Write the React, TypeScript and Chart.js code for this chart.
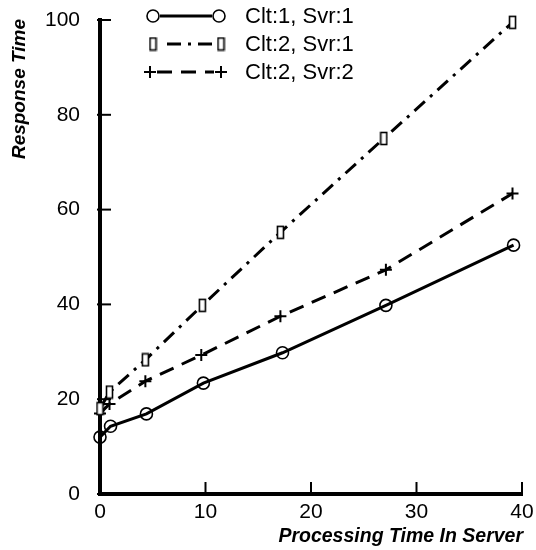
import React, { useEffect, useRef } from "react";
import { Chart, registerables } from "chart.js";

Chart.register(...registerables);

const seriesLabels = ["Clt:1, Svr:1", "Clt:2, Svr:1", "Clt:2, Svr:2"];
const s1X = [0, 1, 4.4, 9.8, 17.3, 27.1, 39.2];
const s1Y = [12, 14.3, 16.9, 23.4, 29.8, 39.8, 52.5];
const s2X = [0, 0.9, 4.3, 9.7, 17.1, 26.9, 39.1];
const s2Y = [18, 21.5, 28.3, 39.8, 55.2, 75, 99.5];
const s3X = [0, 0.9, 4.3, 9.6, 17.1, 27.1, 39.1];
const s3Y = [17, 19, 23.8, 29.3, 37.5, 47.3, 63.4];
const xTicks = [0, 10, 20, 30, 40];
const yTicks = [0, 20, 40, 60, 80, 100];
const xTitle = "Processing Time In Server";
const yTitle = "Response Time";

const toPoints = (xs: number[], ys: number[]) => xs.map((x, i) => ({ x, y: ys[i] }));

function makeRectMarker(): HTMLCanvasElement {
  const c = document.createElement("canvas");
  c.width = 9;
  c.height = 15;
  const g = c.getContext("2d")!;
  g.strokeStyle = "#000";
  g.lineWidth = 1.6;
  g.fillStyle = "#fff";
  g.fillRect(1.5, 1.5, 6, 12);
  g.strokeRect(1.5, 1.5, 6, 12);
  return c;
}

export default function App() {
  const ref = useRef<HTMLCanvasElement>(null);
  useEffect(() => {
    const rectMarker = makeRectMarker();
    const font = "'Liberation Sans', Arial, Helvetica, sans-serif";
    const dashes = [[], [14, 7, 3, 7], [15, 9]];
    const drawMarker = (ctx: CanvasRenderingContext2D, kind: number, x: number, y: number) => {
      ctx.save();
      ctx.setLineDash([]);
      ctx.strokeStyle = "#000";
      if (kind === 0) {
        ctx.lineWidth = 1.6;
        ctx.beginPath();
        ctx.arc(x, y, 6, 0, Math.PI * 2);
        ctx.stroke();
      } else if (kind === 1) {
        ctx.drawImage(rectMarker, x - 4.5, y - 7.5);
      } else {
        ctx.lineWidth = 2;
        ctx.beginPath();
        ctx.moveTo(x - 6, y);
        ctx.lineTo(x + 6, y);
        ctx.moveTo(x, y - 6);
        ctx.lineTo(x, y + 6);
        ctx.stroke();
      }
      ctx.restore();
    };
    const decor = {
      id: "decor",
      afterDraw(chart: any) {
        const ctx: CanvasRenderingContext2D = chart.ctx;
        const xs = chart.scales.x;
        const ys = chart.scales.y;
        const area = chart.chartArea;
        ctx.save();
        ctx.strokeStyle = "#000";
        ctx.lineWidth = 2;
        ctx.setLineDash([]);
        // inward ticks
        xTicks.forEach((v) => {
          const px = xs.getPixelForValue(v);
          ctx.beginPath();
          ctx.moveTo(px, area.bottom);
          ctx.lineTo(px, area.bottom - 12);
          ctx.stroke();
        });
        yTicks.forEach((v) => {
          const py = ys.getPixelForValue(v);
          ctx.beginPath();
          ctx.moveTo(area.left - 3, py);
          ctx.lineTo(area.left + 11, py);
          ctx.stroke();
        });
        // axis titles
        ctx.fillStyle = "#000";
        ctx.font = `italic bold 19.5px ${font}`;
        ctx.textAlign = "right";
        ctx.textBaseline = "middle";
        ctx.fillText(xTitle, 523, 537);
        ctx.save();
        ctx.translate(20, 19);
        ctx.rotate(-Math.PI / 2);
        ctx.font = `italic bold 19px ${font}`;
        ctx.fillText(yTitle, 0, 0);
        ctx.restore();
        // legend
        const rows = [16, 44, 72];
        rows.forEach((ry, i) => {
          const x1 = i === 2 ? 150 : 153;
          const x2 = i === 0 ? 219 : 221;
          ctx.save();
          ctx.lineWidth = 3;
          ctx.setLineDash(dashes[i]);
          ctx.beginPath();
          ctx.moveTo(x1 + (i === 1 ? 14 : 7), ry);
          ctx.lineTo(x2 - 7, ry);
          ctx.stroke();
          ctx.restore();
          drawMarker(ctx, i, x1, ry);
          drawMarker(ctx, i, x2, ry);
          ctx.font = `22px ${font}`;
          ctx.textAlign = "left";
          ctx.textBaseline = "middle";
          ctx.fillStyle = "#000";
          ctx.fillText(seriesLabels[i], 245, ry + 1);
        });
        ctx.restore();
      },
    };

    const chart = new Chart(ref.current!, {
      type: "line",
      data: {
        datasets: [
          {
            label: seriesLabels[0],
            data: toPoints(s1X, s1Y),
            borderColor: "#000",
            borderWidth: 3,
            pointStyle: "circle",
            pointRadius: 6,
            pointBorderWidth: 1.6,
            pointBackgroundColor: "rgba(0,0,0,0)",
            pointBorderColor: "#000",
            fill: false,
            tension: 0,
          },
          {
            label: seriesLabels[1],
            data: toPoints(s2X, s2Y),
            borderColor: "#000",
            borderWidth: 3,
            borderDash: dashes[1],
            pointStyle: rectMarker as any,
            pointRadius: 6,
            fill: false,
            tension: 0,
          },
          {
            label: seriesLabels[2],
            data: toPoints(s3X, s3Y),
            borderColor: "#000",
            borderWidth: 3,
            borderDash: dashes[2],
            pointStyle: "cross",
            pointRadius: 6,
            pointBorderWidth: 2,
            pointBorderColor: "#000",
            fill: false,
            tension: 0,
          },
        ],
      },
      options: {
        animation: false,
        responsive: true,
        maintainAspectRatio: false,
        layout: { padding: { top: 20, right: 14, left: 0, bottom: 0 } },
        plugins: { legend: { display: false }, tooltip: { enabled: false } },
        datasets: { line: { clip: false as any } },
        scales: {
          x: {
            type: "linear",
            min: 0,
            max: 40,
            afterBuildTicks: (s: any) => {
              s.ticks = xTicks.map((v) => ({ value: v }));
            },
            grid: { display: false, drawTicks: false },
            border: { display: true, color: "#000", width: 4 },
            ticks: { color: "#000", font: { size: 21, family: font }, padding: 6, maxRotation: 0 },
            afterFit: (s: any) => {
              s.height = 56;
              s.paddingLeft = 0;
              s.paddingRight = 0;
              s.paddingTop = 0;
              s.paddingBottom = 0;
            },
          },
          y: {
            type: "linear",
            min: 0,
            max: 100,
            afterBuildTicks: (s: any) => {
              s.ticks = yTicks.map((v) => ({ value: v }));
            },
            grid: { display: false, drawTicks: false },
            border: { display: true, color: "#000", width: 4 },
            ticks: { color: "#000", font: { size: 21, family: font }, padding: 20 },
            afterFit: (s: any) => {
              s.width = 100;
              s.paddingLeft = 0;
              s.paddingRight = 0;
              s.paddingTop = 0;
              s.paddingBottom = 0;
            },
          },
        },
      },
      plugins: [decor],
    });
    return () => chart.destroy();
  }, []);
  return (
    <div style={{ position: "absolute", left: 0, top: 0, width: 536, height: 550, background: "#fff" }}>
      <canvas ref={ref} />
    </div>
  );
}
